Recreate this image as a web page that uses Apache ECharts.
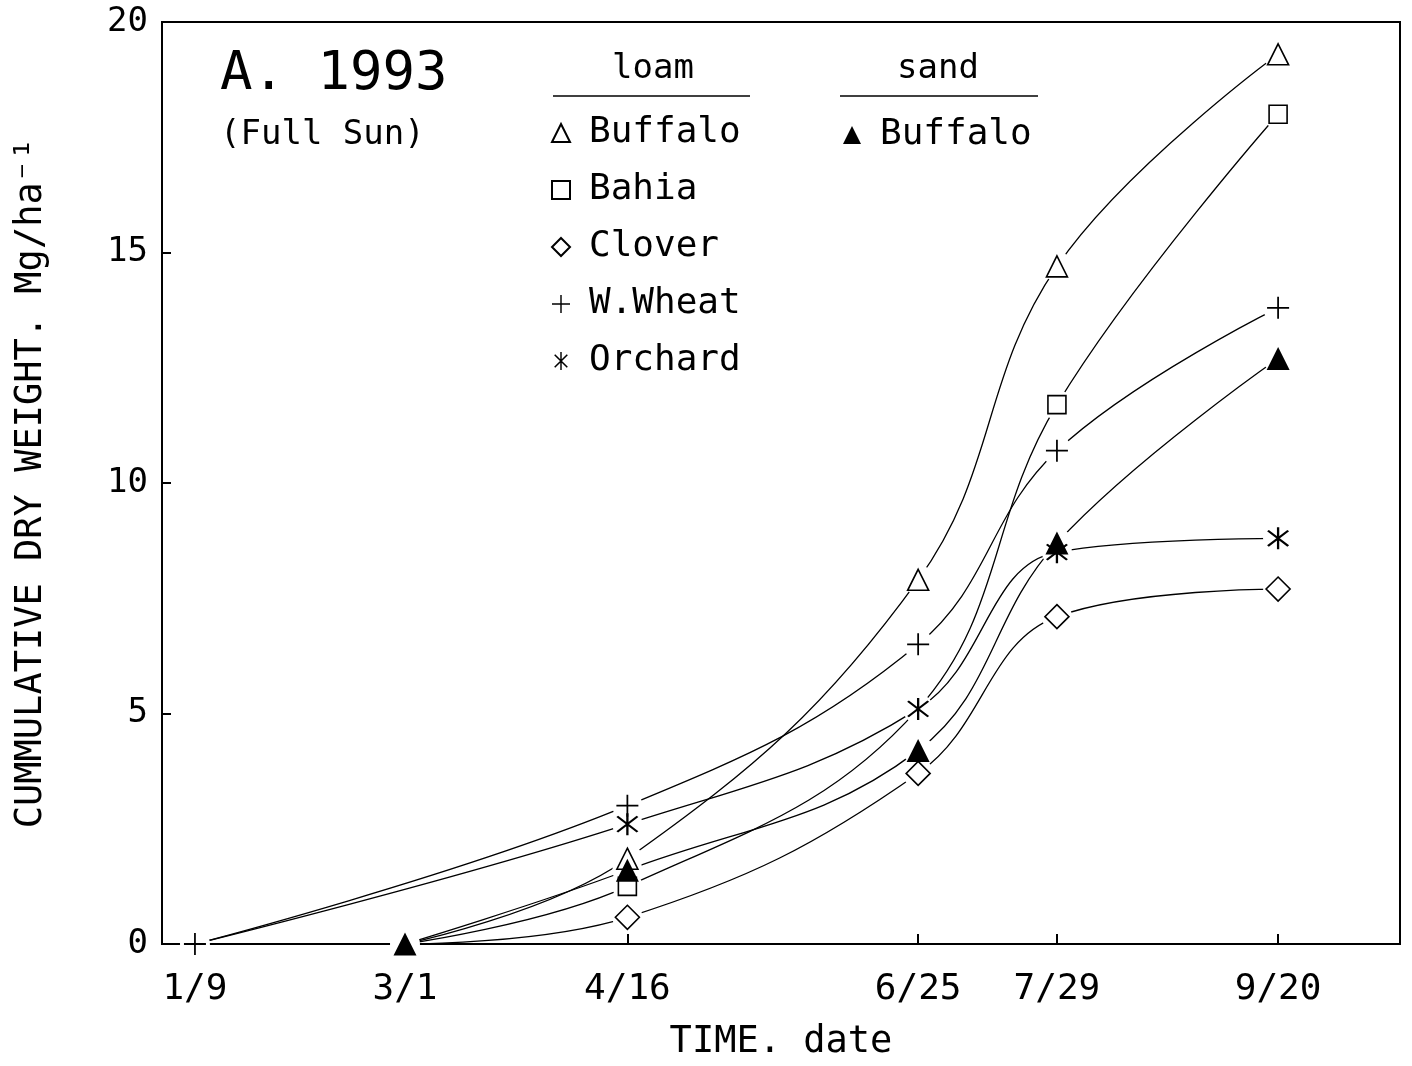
<!DOCTYPE html>
<html>
<head>
<meta charset="utf-8">
<title>Cumulative dry weight 1993 (Full Sun)</title>
<script src="https://cdn.jsdelivr.net/npm/echarts@6/dist/echarts.min.js"></script>
<style>
  html, body { margin: 0; padding: 0; background: #fff; }
  #chart { width: 1412px; height: 1066px; }
</style>
</head>
<body>
<div id="chart"></div>
<script>
"use strict";

/* ---------- data ---------- */
const dateLabels = ["1/9", "3/1", "4/16", "6/25", "7/29", "9/20"];
const dateX      = [9, 60, 114, 184.6, 218.3, 272];   // position on the time axis (day)
const xMin = 1, xMax = 301.6;

const buffaloLoam = [null, 0, 1.85, 7.9, 14.7, 19.3];
const bahia       = [null, 0, 1.25, 5.1, 11.7, 18.0];
const clover      = [null, 0, 0.58, 3.7, 7.1, 7.7];
const wWheat      = [0, null, 3.0, 6.5, 10.7, 13.8];
const orchard     = [0, null, 2.6, 5.1, 8.5, 8.8];
const buffaloSand = [null, 0, 1.6, 4.2, 8.7, 12.7];

const yTicks = [0, 5, 10, 15, 20];

// markers that sit under another marker in the original
const hiddenMarks = [["Orchard", "1/9"], ["loam Buffalo", "3/1"], ["Bahia", "3/1"], ["Clover", "3/1"], ["Bahia", "6/25"]];

/* ---------- symbols ---------- */
const PLUS = "path://M9.2,0L10.8,0L10.8,20L9.2,20Z M0,9.2L20,9.2L20,10.8L0,10.8Z";
const STAR = "path://M9.2,0L10.8,0L10.8,20L9.2,20Z M2.4,3.6L3.6,2.4L17.6,16.4L16.4,17.6Z M16.4,2.4L17.6,3.6L3.6,17.6L2.4,16.4Z";

const FONT = "DejaVu Sans Mono";
const open  = { color: "#fff", borderColor: "#000", borderWidth: 1.6, opacity: 1 };
const solid = { color: "#000", borderWidth: 0, opacity: 1 };

const groups = [
  { name: "loam Buffalo", values: buffaloLoam, symbol: "triangle", size: 21, style: open },
  { name: "Bahia",        values: bahia,       symbol: "rect",     size: 18, style: open },
  { name: "Clover",       values: clover,      symbol: "diamond",  size: 24, style: open },
  { name: "W.Wheat",      values: wWheat,      symbol: PLUS,       size: 22, style: solid },
  { name: "Orchard",      values: orchard,     symbol: STAR,       size: 22, style: solid },
  { name: "sand Buffalo", values: buffaloSand, symbol: "triangle", size: 23, style: solid }
];

function points(values) {
  const out = [];
  values.forEach((v, i) => { if (v !== null) out.push([dateX[i], v, dateLabels[i]]); });
  return out;
}

function isHidden(name, label) {
  return hiddenMarks.some(h => h[0] === name && h[1] === label);
}

/* ---------- series ---------- */
const lineSeries = groups.map(g => ({
  name: g.name + " line",
  type: "line",
  data: points(g.values).map(p => [p[0], p[1]]),
  smooth: 0.4,
  showSymbol: false,
  lineStyle: { color: "#000", width: 1.3 },
  z: 2,
  silent: true
}));

const haloData = [];
groups.forEach(g => points(g.values).forEach(p => {
  if (!isHidden(g.name, p[2])) haloData.push([p[0], p[1]]);
}));

const haloSeries = {
  name: "halo",
  type: "scatter",
  data: haloData,
  symbol: "circle",
  symbolSize: 30,
  itemStyle: { color: "#fff", opacity: 1 },
  z: 3,
  silent: true
};

const markSeries = groups.map(g => ({
  name: g.name,
  type: "scatter",
  symbol: g.symbol,
  symbolSize: g.size,
  itemStyle: g.style,
  data: points(g.values).map(p => isHidden(g.name, p[2])
    ? { value: [p[0], p[1]], symbol: "none" }
    : [p[0], p[1]]),
  z: 4,
  silent: true
}));

/* ---------- chart ---------- */
const chart = echarts.init(document.getElementById("chart"), null, { renderer: "canvas" });

const legendBase = {
  orient: "vertical",
  itemWidth: 18,
  itemHeight: 18,
  itemGap: 17,
  selectedMode: false,
  textStyle: { fontFamily: FONT, fontSize: 36, color: "#000", lineHeight: 40, padding: [0, 0, 0, 14] },
  formatter: n => n.replace(/^(loam|sand) /, "")
};

chart.setOption({
  animation: false,
  backgroundColor: "#fff",
  grid: {
    left: 162, right: 12, top: 22, bottom: 121,
    show: true, borderColor: "#000", borderWidth: 2, backgroundColor: "transparent"
  },
  xAxis: {
    type: "value",
    min: xMin, max: xMax,
    name: "TIME. date",
    nameLocation: "middle",
    nameGap: 80,
    nameTextStyle: { fontFamily: FONT, fontSize: 37, color: "#000" },
    axisLine: { lineStyle: { color: "#000", width: 2 } },
    axisTick: { show: true, inside: true, length: 10, customValues: dateX, lineStyle: { color: "#000", width: 2 } },
    axisLabel: {
      customValues: dateX,
      margin: 28,
      fontFamily: FONT, fontSize: 36, color: "#000",
      formatter: v => {
        let best = 0;
        dateX.forEach((d, i) => { if (Math.abs(d - v) < Math.abs(dateX[best] - v)) best = i; });
        return dateLabels[best];
      }
    },
    splitLine: { show: false }
  },
  yAxis: {
    type: "value",
    min: yTicks[0], max: yTicks[yTicks.length - 1], interval: 5,
    name: "CUMMULATIVE DRY WEIGHT. Mg/ha⁻¹",
    nameLocation: "middle",
    nameGap: 112,
    nameRotate: 90,
    nameTextStyle: { fontFamily: FONT, fontSize: 37, color: "#000" },
    axisLine: { show: true, lineStyle: { color: "#000", width: 2 } },
    axisTick: { show: true, inside: true, length: 9, lineStyle: { color: "#000", width: 2 } },
    axisLabel: { margin: 14, fontFamily: FONT, fontSize: 34, color: "#000" },
    splitLine: { show: false }
  },
  legend: [
    Object.assign({}, legendBase, {
      left: 546, top: 108,
      data: ["loam Buffalo", "Bahia", "Clover", "W.Wheat", "Orchard"]
    }),
    Object.assign({}, legendBase, {
      left: 838, top: 110,
      data: ["sand Buffalo"]
    })
  ],
  graphic: [
    { type: "text", left: 220, top: 48, style: { text: "A. 1993", font: "54px '" + FONT + "'", fill: "#000" } },
    { type: "text", left: 220, top: 118, style: { text: "(Full Sun)", font: "34px '" + FONT + "'", fill: "#000" } },
    { type: "text", left: 612, top: 52, style: { text: "loam", font: "34px '" + FONT + "'", fill: "#000" } },
    { type: "line", shape: { x1: 553, y1: 96, x2: 750, y2: 96 }, style: { stroke: "#000", lineWidth: 1.5 } },
    { type: "text", left: 897, top: 52, style: { text: "sand", font: "34px '" + FONT + "'", fill: "#000" } },
    { type: "line", shape: { x1: 840, y1: 96, x2: 1038, y2: 96 }, style: { stroke: "#000", lineWidth: 1.5 } }
  ],
  series: [].concat(lineSeries, [haloSeries], markSeries)
});
</script>
</body>
</html>
